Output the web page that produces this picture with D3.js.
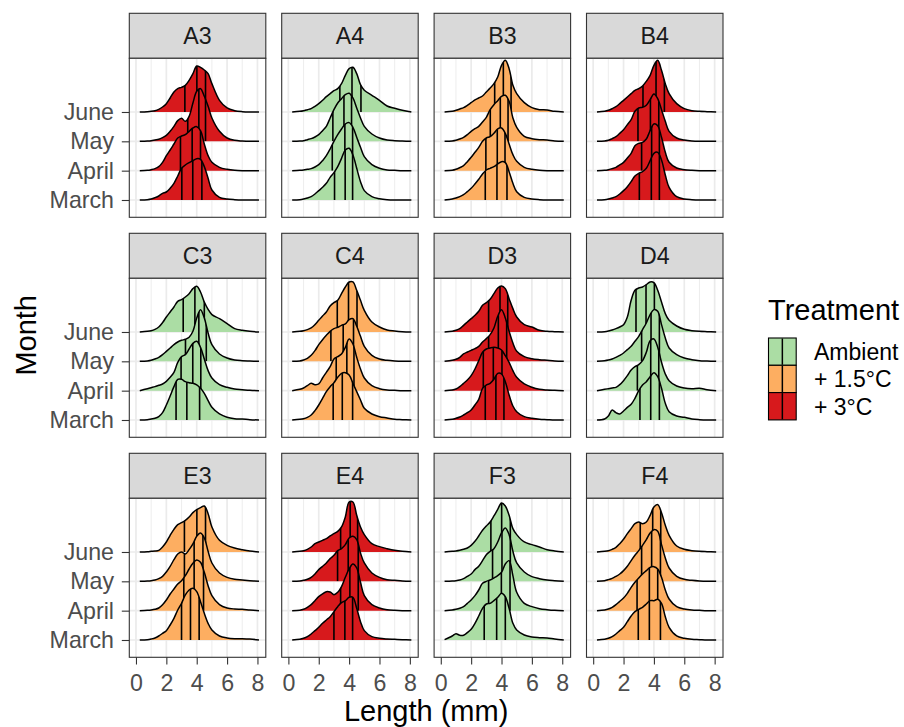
<!DOCTYPE html>
<html><head><meta charset="utf-8">
<script src="https://cdn.jsdelivr.net/npm/d3@7"></script>
<style>
body{margin:0;background:#fff}
text{font-family:"Liberation Sans",Arial,Helvetica,sans-serif}
</style>
</head><body>
<svg id="chart" width="904" height="727"></svg>
<script>
// ---------- DATA ----------
const months = ["March", "April", "May", "June"];           // bottom -> top
const panels = ["A3","A4","B3","B4","C3","C4","D3","D4","E3","E4","F3","F4"];
const panelTreatment = ["+ 3°C","Ambient","+ 1.5°C","+ 3°C","Ambient","+ 1.5°C",
                        "+ 3°C","Ambient","+ 1.5°C","+ 3°C","Ambient","+ 1.5°C"];
const treatments = ["Ambient", "+ 1.5°C", "+ 3°C"];
const treatmentColors = ["#ABDDA4", "#FDAE61", "#D7191C"];
const xTicks = [0, 2, 4, 6, 8];
const xMinor = [1, 3, 5, 7];
// length grid (mm) at which the ridge densities are read (relative density units)
const lengthGrid = [0.25,0.75,1,1.25,1.5,1.75,2,2.25,2.5,2.75,3,3.25,3.5,3.75,4,4.25,4.5,4.75,5,5.5,6,6.5,7,7.5,8.1];

const A3_density = {
  June:  [0,1,2,4,8,15,25,42,60,70,74,80,95,115,138,134,126,115,85,35,12,4,1,0,0],
  May:   [0,1,2,4,6,11,18,30,45,62,69,60,75,115,150,158,135,105,70,30,10,3,1,0,0],
  April: [0,1,3,6,12,25,45,62,80,98,104,108,118,128,132,120,80,45,25,10,4,1,0,0,0],
  March: [0,1,3,7,12,20,24,35,50,72,95,105,112,118,124,122,100,65,30,8,3,1,0,0,0]
};
const A4_density = {
  June:  [0,2,4,7,10,17,25,35,46,55,64,70,85,110,130,134,115,82,65,50,35,18,11,5,0],
  May:   [0,1,2,5,8,13,20,32,45,70,95,115,128,140,144,130,100,70,45,22,10,4,2,1,0],
  April: [0,1,2,4,6,11,18,30,45,65,88,108,125,140,144,130,100,70,42,18,7,2,1,0,0],
  March: [0,1,3,6,10,18,28,38,50,68,82,100,125,150,155,135,95,55,28,10,4,1,0,0,0]
};
const B3_density = {
  June:  [0,2,5,9,13,20,28,36,42,48,60,72,85,105,140,155,130,80,55,28,13,7,6,2,0],
  May:   [0,1,3,7,12,20,30,38,45,58,72,95,110,122,135,138,120,70,42,15,8,5,4,1,0],
  April: [0,1,4,9,15,27,40,55,70,88,98,102,112,125,128,112,80,48,28,10,4,1,0,0,0],
  March: [0,3,6,10,16,25,35,48,62,78,90,95,100,108,115,112,85,50,25,8,3,1,0,0,0]
};
const B4_density = {
  June:  [0,2,5,10,16,25,35,45,55,65,70,78,92,110,140,155,125,85,55,25,10,4,2,1,0],
  May:   [0,1,3,8,14,24,35,50,65,90,100,102,108,125,142,128,95,60,30,10,4,1,0,0,0],
  April: [0,1,3,6,10,17,25,38,52,75,82,85,95,120,140,135,100,55,25,8,3,1,0,0,0],
  March: [0,1,3,6,10,18,28,40,55,72,80,85,95,118,140,143,120,75,38,10,3,1,0,0,0]
};
const C3_density = {
  June:  [0,2,4,8,15,28,45,60,75,92,97,105,115,130,137,120,90,68,52,40,25,10,5,2,0],
  May:   [0,1,3,7,12,20,30,40,50,58,63,66,72,90,130,155,130,85,50,22,10,4,2,1,0],
  April: [0,6,9,12,16,20,28,40,55,85,102,108,125,142,148,130,95,60,38,18,10,5,3,1,0],
  March: [0,1,3,5,10,22,45,72,100,122,122,115,112,110,105,95,80,58,38,18,8,4,3,1,0]
};
const C4_density = {
  June:  [0,2,4,7,12,22,35,48,60,78,88,95,115,135,150,150,125,95,65,30,15,6,3,1,0],
  May:   [0,1,4,9,18,32,50,65,78,90,98,102,108,112,125,128,105,75,45,18,7,3,1,0,0],
  April: [0,4,8,15,22,18,20,38,55,72,95,102,110,130,155,140,100,65,38,15,6,2,1,0,0],
  March: [0,2,4,8,15,28,45,65,85,100,112,128,140,142,135,110,85,60,35,18,10,6,2,1,0]
};
const D3_density = {
  June:  [0,2,5,10,20,30,40,50,62,80,88,98,115,132,138,130,100,70,45,22,15,5,2,1,0],
  May:   [0,3,6,12,22,28,33,38,45,58,68,80,100,135,155,130,90,55,30,14,8,5,3,1,0],
  April: [0,2,5,12,22,32,45,65,90,115,125,128,130,128,122,105,85,60,40,20,10,4,2,1,0],
  March: [0,2,5,9,15,22,30,45,62,95,105,110,122,140,138,115,75,42,25,10,5,2,1,0,0]
};
const D4_density = {
  June:  [0,1,3,6,10,15,22,45,95,125,132,135,142,150,148,125,90,55,35,18,8,4,2,1,0],
  May:   [0,2,4,7,12,18,25,35,45,60,75,95,115,140,155,150,110,70,40,20,10,5,2,1,0],
  April: [0,4,6,8,10,18,30,45,62,72,78,90,115,150,155,130,85,50,30,14,8,6,7,3,0],
  March: [0,3,12,30,22,18,27,38,47,65,88,105,115,130,142,130,95,50,25,12,8,3,1,0,0]
};
const E3_density = {
  June:  [0,1,2,3,5,15,30,50,68,82,88,95,105,118,127,133,138,115,75,35,20,12,7,3,0],
  May:   [0,1,2,4,8,15,28,45,65,82,88,82,95,112,135,145,130,90,55,25,12,6,4,2,0],
  April: [0,1,2,4,8,18,32,50,65,80,90,105,125,142,152,145,115,75,45,18,8,5,4,2,0],
  March: [0,1,3,6,12,20,28,45,65,90,110,135,150,155,145,115,80,50,30,12,6,4,4,3,0]
};
const E4_density = {
  June:  [0,2,4,8,15,25,30,35,40,48,55,62,75,105,150,150,110,75,52,25,16,10,5,2,0],
  May:   [0,1,3,6,12,22,35,45,55,68,78,92,98,110,130,135,125,85,55,25,12,5,3,1,0],
  April: [0,1,4,10,18,30,42,50,57,56,48,55,72,100,125,140,128,85,45,18,8,3,1,0,0],
  March: [0,2,5,10,18,28,38,50,60,70,85,100,112,118,128,128,95,55,28,10,5,3,2,1,0]
};
const F3_density = {
  June:  [0,2,3,5,8,12,20,32,48,65,78,90,108,128,147,138,110,70,52,30,22,15,7,3,0],
  May:   [0,1,2,4,8,15,22,35,45,62,80,90,98,118,145,160,140,90,55,28,14,8,4,2,0],
  April: [0,2,4,7,12,22,32,45,62,82,88,92,98,105,115,140,150,105,55,22,12,6,3,1,0],
  March: [1,12,19,14,14,22,32,50,72,95,108,110,118,128,140,130,95,50,30,15,9,7,6,3,0]
};
const F4_density = {
  June:  [0,2,4,8,14,25,38,55,70,85,90,85,90,110,135,142,118,80,50,18,8,4,2,1,0],
  May:   [0,2,5,9,15,22,32,45,62,78,92,108,125,145,155,150,110,70,40,15,6,3,1,0,0],
  April: [0,2,5,10,18,28,38,52,70,85,98,110,120,130,132,125,100,62,35,12,5,2,1,0,0],
  March: [0,2,5,10,18,28,38,55,72,85,92,98,108,118,118,122,110,70,38,12,5,2,1,0,0]
};

// quartiles (25%, 50%, 75%) of Length, mm
const A3_quartiles = {June:[3.22,4.01,4.58], May:[3.41,4.14,4.58], April:[2.93,3.70,4.25], March:[3.02,3.74,4.34]};
const A4_quartiles = {June:[3.39,4.19,4.78], May:[2.93,3.66,4.16], April:[2.89,3.72,4.23], March:[3.04,3.74,4.23]};
const B3_quartiles = {June:[3.55,4.12,4.63], May:[3.26,3.92,4.43], April:[2.97,3.72,4.23], March:[2.93,3.70,4.36]};
const B4_quartiles = {June:[3.28,4.14,4.69], May:[2.95,3.77,4.32], April:[3.19,3.85,4.36], March:[3.04,3.83,4.36]};
const C3_quartiles = {June:[3.11,3.88,4.50], May:[3.26,4.14,4.63], April:[2.97,3.74,4.27], March:[2.64,3.35,4.19]};
const C4_quartiles = {June:[3.22,3.96,4.52], May:[2.80,3.61,4.29], April:[3.15,3.85,4.32], March:[2.95,3.55,4.23]};
const D3_quartiles = {June:[3.15,3.90,4.41], May:[3.15,3.79,4.34], April:[2.80,3.46,4.03], March:[2.93,3.63,4.16]};
const D4_quartiles = {June:[2.82,3.48,4.03], May:[3.19,3.81,4.36], April:[2.91,3.79,4.32], March:[3.08,3.79,4.36]};
const E3_quartiles = {June:[3.19,4.01,4.58], May:[3.19,3.83,4.41], April:[3.15,3.83,4.45], March:[3.00,3.59,4.16]};
const E4_quartiles = {June:[3.44,4.07,4.56], May:[3.24,3.94,4.60], April:[3.44,4.05,4.60], March:[3.00,3.72,4.23]};
const F3_quartiles = {June:[3.30,4.01,4.58], May:[3.41,4.03,4.58], April:[3.15,3.99,4.56], March:[2.86,3.68,4.25]};
const F4_quartiles = {June:[3.10,3.92,4.45], May:[3.19,3.85,4.43], April:[2.89,3.70,4.25], March:[2.97,3.70,4.43]};

const densityByPanel = {A3:A3_density,A4:A4_density,B3:B3_density,B4:B4_density,C3:C3_density,C4:C4_density,
  D3:D3_density,D4:D4_density,E3:E3_density,E4:E4_density,F3:F3_density,F4:F4_density};
const quartilesByPanel = {A3:A3_quartiles,A4:A4_quartiles,B3:B3_quartiles,B4:B4_quartiles,C3:C3_quartiles,C4:C4_quartiles,
  D3:D3_quartiles,D4:D4_quartiles,E3:E3_quartiles,E4:E4_quartiles,F3:F3_quartiles,F4:F4_quartiles};

// ---------- LAYOUT ----------
const svg = d3.select("#chart");
const plotLeft = 129.3, plotTop = 13.3;
const colPitch = 152.4, rowPitch = 220;
const panelW = 136.5, stripH = 45, panelH = 159;
const nCol = 4;
const fontText = 23.2, fontTitle = 29;
const ff = '"Liberation Sans",Arial,sans-serif';

const x = d3.scaleLinear().domain([-0.44, 8.55]).range([0, panelW]);
const y = d3.scaleLinear().domain([0.41, 5.83]).range([panelH, 0]);
const ridgeHeight = d3.scaleLinear().domain([0, 88]).range([0, 1]);   // density units -> rows
const color = d3.scaleOrdinal().domain(treatments).range(treatmentColors);
const rowOf = m => months.indexOf(m) + 1;
const curve = d3.curveCatmullRom.alpha(0.5);

const defs = svg.append("defs");

panels.forEach((p, pi) => {
  const c = pi % nCol, r = Math.floor(pi / nCol);
  const gx = plotLeft + c * colPitch, gy = plotTop + r * rowPitch;
  const g = svg.append("g").attr("transform", `translate(${gx},${gy})`);

  // strip
  g.append("rect").attr("x", 0).attr("y", 0).attr("width", panelW).attr("height", stripH)
    .attr("fill", "#D9D9D9").attr("stroke", "#333333").attr("stroke-width", 1.1);
  g.append("text").attr("x", panelW / 2).attr("y", stripH / 2).attr("dy", "0.36em")
    .attr("text-anchor", "middle").attr("fill", "#1A1A1A").attr("font-size", fontText).text(p);

  const pg = g.append("g").attr("transform", `translate(0,${stripH})`);
  pg.append("rect").attr("width", panelW).attr("height", panelH).attr("fill", "#fff");

  const clipId = "pclip" + pi;
  defs.append("clipPath").attr("id", clipId).append("rect").attr("width", panelW).attr("height", panelH);
  const inner = pg.append("g").attr("clip-path", `url(#${clipId})`);

  // grid
  inner.selectAll(".minor").data(xMinor).join("line")
    .attr("x1", d => x(d)).attr("x2", d => x(d)).attr("y1", 0).attr("y2", panelH)
    .attr("stroke", "#EBEBEB").attr("stroke-width", 0.9);
  inner.selectAll(".major").data(xTicks).join("line")
    .attr("x1", d => x(d)).attr("x2", d => x(d)).attr("y1", 0).attr("y2", panelH)
    .attr("stroke", "#EBEBEB").attr("stroke-width", 1.7);
  inner.selectAll(".hmajor").data(months).join("line")
    .attr("x1", 0).attr("x2", panelW).attr("y1", d => y(rowOf(d))).attr("y2", d => y(rowOf(d)))
    .attr("stroke", "#EBEBEB").attr("stroke-width", 1.7);

  const fill = color(panelTreatment[pi]);
  const dens = densityByPanel[p], qs = quartilesByPanel[p];

  // top ridge first, lower ridges overlap upper ones
  months.slice().reverse().forEach(m => {
    const row = rowOf(m);
    const vals = dens[m];
    const area = d3.area()
      .x((d, i) => x(lengthGrid[i]))
      .y0(y(row))
      .y1(d => Math.min(y(row), y(row + ridgeHeight(d))))
      .curve(curve);
    const line = d3.line()
      .x((d, i) => x(lengthGrid[i]))
      .y(d => y(row + ridgeHeight(d)))
      .curve(curve);
    const rid = `r_${p}_${m}`;
    defs.append("clipPath").attr("id", rid).append("path").attr("d", area(vals));
    inner.append("path").attr("d", area(vals)).attr("fill", fill).attr("stroke", "none");
    inner.append("g").attr("clip-path", `url(#${rid})`)
      .selectAll("line").data(qs[m]).join("line")
      .attr("x1", d => x(d)).attr("x2", d => x(d))
      .attr("y1", y(row)).attr("y2", 0)
      .attr("stroke", "#000").attr("stroke-width", 1.6);
    inner.append("path").attr("d", line(vals)).attr("fill", "none")
      .attr("stroke", "#000").attr("stroke-width", 1.5).attr("stroke-linejoin", "round");
  });

  pg.append("rect").attr("width", panelW).attr("height", panelH)
    .attr("fill", "none").attr("stroke", "#333333").attr("stroke-width", 1.1);

  // axes
  if (c === 0) {
    const ya = pg.append("g").call(d3.axisLeft(y).tickValues([1,2,3,4])
      .tickFormat(d => months[d - 1]).tickSize(7.5).tickPadding(7.8));
    ya.select(".domain").remove();
    ya.selectAll(".tick line").attr("stroke", "#333333").attr("stroke-width", 1.1);
    ya.selectAll(".tick text").attr("fill", "#4D4D4D").attr("font-size", fontText).attr("font-family", ff);
  }
  if (r === 2) {
    const xa = pg.append("g").attr("transform", `translate(0,${panelH})`)
      .call(d3.axisBottom(x).tickValues(xTicks).tickSize(7.2).tickPadding(10.3));
    xa.select(".domain").remove();
    xa.selectAll(".tick line").attr("stroke", "#333333").attr("stroke-width", 1.1);
    xa.selectAll(".tick text").attr("fill", "#4D4D4D").attr("font-size", fontText).attr("font-family", ff);
  }
});

// axis titles
const plotRight = plotLeft + 3 * colPitch + panelW;
const plotBottom = plotTop + 2 * rowPitch + stripH + panelH;
svg.append("text").attr("x", (plotLeft + plotRight) / 2).attr("y", 721)
  .attr("text-anchor", "middle").attr("font-size", fontTitle).attr("fill", "#000").text("Length (mm)");
svg.append("text").attr("transform", `translate(36,${(plotTop + plotBottom) / 2}) rotate(-90)`)
  .attr("text-anchor", "middle").attr("font-size", fontTitle).attr("fill", "#000").text("Month");

// legend
const lg = svg.append("g").attr("transform", "translate(768,0)");
lg.append("text").attr("x", 0).attr("y", 320).attr("font-size", fontTitle).attr("fill", "#000").text("Treatment");
const keyW = 27.7, keyH = 27.3, keyTop = 338;
treatments.forEach((t, i) => {
  const ky = keyTop + i * keyH;
  lg.append("rect").attr("x", 0.5).attr("y", ky).attr("width", keyW).attr("height", keyH)
    .attr("fill", color(t)).attr("stroke", "#000").attr("stroke-width", 1.1);
  lg.append("line").attr("x1", 0.5 + keyW / 2).attr("x2", 0.5 + keyW / 2)
    .attr("y1", ky + 0.5).attr("y2", ky + keyH - 0.5).attr("stroke", "#000").attr("stroke-width", 1.5);
  lg.append("text").attr("x", 46).attr("y", ky + keyH / 2).attr("dy", "0.36em")
    .attr("font-size", 23).attr("fill", "#000").text(t);
});
</script>
</body></html>
